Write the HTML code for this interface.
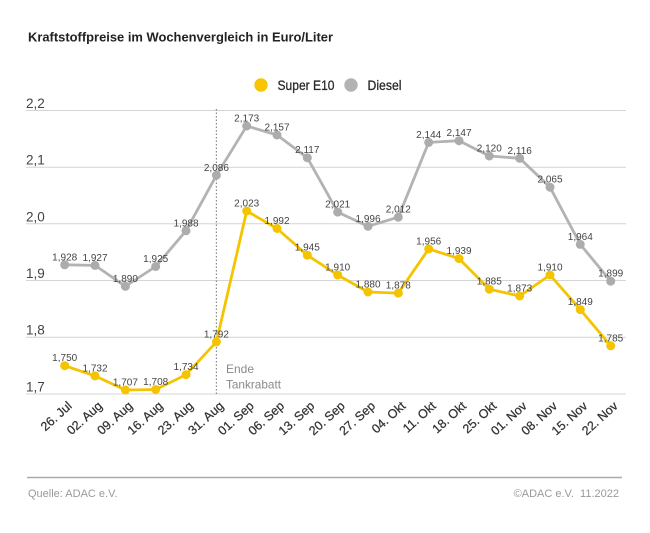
<!DOCTYPE html>
<html>
<head>
<meta charset="utf-8">
<style>
html,body{margin:0;padding:0;background:#fff;}
svg{display:block;font-family:"Liberation Sans",sans-serif;}
</style>
</head>
<body>
<svg width="650" height="533" viewBox="0 0 650 533" xmlns="http://www.w3.org/2000/svg">
<rect width="650" height="533" fill="#fff"/>
<!-- Title -->
<text x="28" y="41.5" font-size="13" font-weight="bold" fill="#222" textLength="305" lengthAdjust="spacingAndGlyphs">Kraftstoffpreise im Wochenvergleich in Euro/Liter</text>
<!-- Legend -->
<circle cx="261" cy="85" r="6.7" fill="#f7c600"/>
<text x="277.5" y="90" font-size="14" fill="#2a2a2a" stroke="#2a2a2a" stroke-width="0.3" textLength="57" lengthAdjust="spacingAndGlyphs">Super E10</text>
<circle cx="351" cy="85" r="6.7" fill="#b3b3b3"/>
<text x="367.5" y="90" font-size="14" fill="#2a2a2a" stroke="#2a2a2a" stroke-width="0.3" textLength="34" lengthAdjust="spacingAndGlyphs">Diesel</text>

<!-- Grid -->
<g stroke="#d4d4d4" stroke-width="1">
<line x1="26" y1="110.5" x2="626" y2="110.5"/>
<line x1="26" y1="167.2" x2="626" y2="167.2"/>
<line x1="26" y1="223.8" x2="626" y2="223.8"/>
<line x1="26" y1="280.5" x2="626" y2="280.5"/>
<line x1="26" y1="337.2" x2="626" y2="337.2"/>
<line x1="26" y1="394" x2="626" y2="394"/>
</g>
<g font-size="13.5" fill="#444">
<text x="26" y="108">2,2</text>
<text x="26" y="164.7">2,1</text>
<text x="26" y="221.3">2,0</text>
<text x="26" y="278">1,9</text>
<text x="26" y="334.7">1,8</text>
<text x="26" y="391.5">1,7</text>
</g>

<!-- dotted marker -->
<line x1="216.4" y1="109" x2="216.4" y2="394" stroke="#888" stroke-width="1.2" stroke-dasharray="1.5 2"/>
<text x="226" y="373" font-size="12" fill="#8a8a8a">Ende</text>
<text x="226" y="388.5" font-size="12" fill="#8a8a8a" textLength="55" lengthAdjust="spacingAndGlyphs">Tankrabatt</text>

<!-- Diesel -->
<polyline fill="none" stroke="#b3b3b3" stroke-width="2.8" stroke-linejoin="round"
points="64.7,264.8 95.0,265.4 125.4,286.3 155.7,266.5 186.0,230.8 216.4,175.3 246.7,126.0 277.0,135.0 307.3,157.7 337.7,212.1 368.0,226.3 398.3,217.2 428.7,142.4 459.0,140.7 489.3,156.0 519.7,158.3 550.0,187.2 580.3,244.4 610.7,281.2"/>
<g fill="#acacac">
<circle cx="64.7" cy="264.8" r="4.5"/><circle cx="95.0" cy="265.4" r="4.5"/><circle cx="125.4" cy="286.3" r="4.5"/><circle cx="155.7" cy="266.5" r="4.5"/><circle cx="186.0" cy="230.8" r="4.5"/><circle cx="216.4" cy="175.3" r="4.5"/><circle cx="246.7" cy="126.0" r="4.5"/><circle cx="277.0" cy="135.0" r="4.5"/><circle cx="307.3" cy="157.7" r="4.5"/><circle cx="337.7" cy="212.1" r="4.5"/><circle cx="368.0" cy="226.3" r="4.5"/><circle cx="398.3" cy="217.2" r="4.5"/><circle cx="428.7" cy="142.4" r="4.5"/><circle cx="459.0" cy="140.7" r="4.5"/><circle cx="489.3" cy="156.0" r="4.5"/><circle cx="519.7" cy="158.3" r="4.5"/><circle cx="550.0" cy="187.2" r="4.5"/><circle cx="580.3" cy="244.4" r="4.5"/><circle cx="610.7" cy="281.2" r="4.5"/>
</g>

<!-- Super E10 -->
<polyline fill="none" stroke="#f5c400" stroke-width="2.8" stroke-linejoin="round"
points="64.7,365.7 95.0,375.9 125.4,390.0 155.7,389.5 186.0,374.7 216.4,341.9 246.7,211.0 277.0,228.5 307.3,255.2 337.7,275.0 368.0,292.0 398.3,293.1 428.7,248.9 459.0,258.6 489.3,289.2 519.7,296.0 550.0,275.0 580.3,309.6 610.7,345.8"/>
<g fill="#f5c400">
<circle cx="64.7" cy="365.7" r="4.5"/><circle cx="95.0" cy="375.9" r="4.5"/><circle cx="125.4" cy="390.0" r="4.5"/><circle cx="155.7" cy="389.5" r="4.5"/><circle cx="186.0" cy="374.7" r="4.5"/><circle cx="216.4" cy="341.9" r="4.5"/><circle cx="246.7" cy="211.0" r="4.5"/><circle cx="277.0" cy="228.5" r="4.5"/><circle cx="307.3" cy="255.2" r="4.5"/><circle cx="337.7" cy="275.0" r="4.5"/><circle cx="368.0" cy="292.0" r="4.5"/><circle cx="398.3" cy="293.1" r="4.5"/><circle cx="428.7" cy="248.9" r="4.5"/><circle cx="459.0" cy="258.6" r="4.5"/><circle cx="489.3" cy="289.2" r="4.5"/><circle cx="519.7" cy="296.0" r="4.5"/><circle cx="550.0" cy="275.0" r="4.5"/><circle cx="580.3" cy="309.6" r="4.5"/><circle cx="610.7" cy="345.8" r="4.5"/>
</g>

<!-- Diesel labels -->
<g font-size="10" fill="#444" text-anchor="middle">
<text x="64.7" y="260.3">1,928</text>
<text x="95.0" y="260.9">1,927</text>
<text x="125.4" y="281.8">1,890</text>
<text x="155.7" y="262.0">1,925</text>
<text x="186.0" y="226.3">1,988</text>
<text x="216.4" y="170.8">2,086</text>
<text x="246.7" y="121.5">2,173</text>
<text x="277.0" y="130.5">2,157</text>
<text x="307.3" y="153.2">2,117</text>
<text x="337.7" y="207.6">2,021</text>
<text x="368.0" y="221.8">1,996</text>
<text x="398.3" y="212.7">2,012</text>
<text x="428.7" y="137.9">2,144</text>
<text x="459.0" y="136.2">2,147</text>
<text x="489.3" y="151.5">2,120</text>
<text x="519.7" y="153.8">2,116</text>
<text x="550.0" y="182.7">2,065</text>
<text x="580.3" y="239.9">1,964</text>
<text x="610.7" y="276.7">1,899</text>
</g>
<!-- Super labels -->
<g font-size="10" fill="#444" text-anchor="middle">
<text x="64.7" y="361.2">1,750</text>
<text x="95.0" y="371.4">1,732</text>
<text x="125.4" y="385.5">1,707</text>
<text x="155.7" y="385.0">1,708</text>
<text x="186.0" y="370.2">1,734</text>
<text x="216.4" y="337.4">1,792</text>
<text x="246.7" y="206.5">2,023</text>
<text x="277.0" y="224.0">1,992</text>
<text x="307.3" y="250.7">1,945</text>
<text x="337.7" y="270.5">1,910</text>
<text x="368.0" y="287.5">1,880</text>
<text x="398.3" y="288.6">1,878</text>
<text x="428.7" y="244.4">1,956</text>
<text x="459.0" y="254.1">1,939</text>
<text x="489.3" y="284.7">1,885</text>
<text x="519.7" y="291.5">1,873</text>
<text x="550.0" y="270.5">1,910</text>
<text x="580.3" y="305.1">1,849</text>
<text x="610.7" y="341.3">1,785</text>
</g>

<!-- X labels -->
<g font-size="12.5" fill="#333" stroke="#333" stroke-width="0.25" text-anchor="end">
<text transform="translate(72.7,407) rotate(-42)">26. Jul</text>
<text transform="translate(103.0,407) rotate(-42)">02. Aug</text>
<text transform="translate(133.4,407) rotate(-42)">09. Aug</text>
<text transform="translate(163.7,407) rotate(-42)">16. Aug</text>
<text transform="translate(194.0,407) rotate(-42)">23. Aug</text>
<text transform="translate(224.4,407) rotate(-42)">31. Aug</text>
<text transform="translate(254.7,407) rotate(-42)">01. Sep</text>
<text transform="translate(285.0,407) rotate(-42)">06. Sep</text>
<text transform="translate(315.3,407) rotate(-42)">13. Sep</text>
<text transform="translate(345.7,407) rotate(-42)">20. Sep</text>
<text transform="translate(376.0,407) rotate(-42)">27. Sep</text>
<text transform="translate(406.3,407) rotate(-42)">04. Okt</text>
<text transform="translate(436.7,407) rotate(-42)">11. Okt</text>
<text transform="translate(467.0,407) rotate(-42)">18. Okt</text>
<text transform="translate(497.3,407) rotate(-42)">25. Okt</text>
<text transform="translate(527.7,407) rotate(-42)">01. Nov</text>
<text transform="translate(558.0,407) rotate(-42)">08. Nov</text>
<text transform="translate(588.3,407) rotate(-42)">15. Nov</text>
<text transform="translate(618.7,407) rotate(-42)">22. Nov</text>
</g>

<!-- Footer -->
<line x1="27" y1="477.5" x2="622" y2="477.5" stroke="#aaa" stroke-width="1.5"/>
<text x="28" y="497" font-size="11" fill="#9a9a9a">Quelle: ADAC e.V.</text>
<text x="619" y="497" font-size="11" fill="#9a9a9a" text-anchor="end" xml:space="preserve">©ADAC e.V.  11.2022</text>
</svg>
</body>
</html>
